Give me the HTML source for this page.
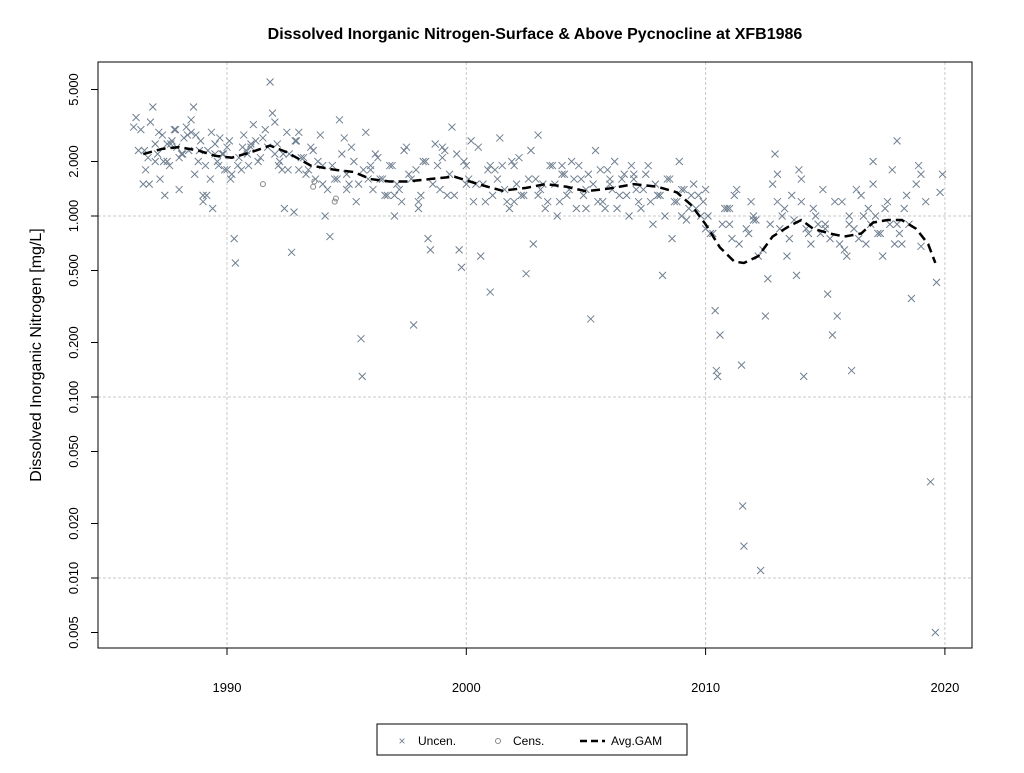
<!DOCTYPE html>
<html><head><meta charset="utf-8"><style>
body{margin:0;background:#fff;font-family:"Liberation Sans",Arial,sans-serif}
svg text{font-family:"Liberation Sans",Arial,sans-serif}
</style></head><body>
<svg id="c" width="1024" height="768" xmlns="http://www.w3.org/2000/svg">
<rect width="1024" height="768" fill="#fff"/>
<text x="535" y="39" text-anchor="middle" font-size="16" font-weight="bold">Dissolved Inorganic Nitrogen-Surface &amp; Above Pycnocline at XFB1986</text>
<text transform="translate(41,355) rotate(-90)" text-anchor="middle" font-size="16">Dissolved Inorganic Nitrogen [mg/L]</text>
<g id="grid"></g><g id="pts"></g><g id="gam"></g><g id="axes"></g>
<rect x="98" y="62" width="874" height="586" fill="none" stroke="#000"/>
<g>
<rect x="377" y="724" width="310" height="31" fill="#fff" stroke="#000"/>
<g><text x="402" y="745" font-size="12" fill="#708090" text-anchor="middle">×</text><text x="418" y="745" font-size="12">Uncen.</text></g>
<g><circle cx="498" cy="741" r="2.5" fill="none" stroke="#888"/><text x="513" y="745" font-size="12">Cens.</text></g>
<g><line x1="580" y1="741" x2="605" y2="741" stroke="#000" stroke-width="2.5" stroke-dasharray="7,4"/><text x="611" y="745" font-size="12">Avg.GAM</text></g>
</g>
</svg>
<script>
const yTicks=[5,2,1,0.5,0.2,0.1,0.05,0.02,0.01,0.005];
const yLabels=["5.000","2.000","1.000","0.500","0.200","0.100","0.050","0.020","0.010","0.005"];
const xTicks=[1990,2000,2010,2020];
const uncenYears=[1986.1,1986.3,1986.5,1986.6,1986.7,1986.8,1986.9,1987.0,1987.1,1987.2,1987.3,1987.4,1987.5,1987.6,1987.7,1987.8,1987.9,1988.0,1988.1,1988.2,1988.3,1988.4,1988.5,1988.6,1988.7,1988.8,1988.9,1989.0,1989.1,1989.2,1989.3,1989.4,1989.5,1989.6,1989.7,1989.8,1989.9,1990.0,1990.1,1990.2,1990.3,1990.35,1990.5,1990.6,1990.7,1990.8,1990.9,1991.0,1991.1,1991.3,1991.5,1991.7,1991.8,1991.9,1992.0,1992.1,1992.2,1992.3,1992.4,1992.5,1992.6,1992.7,1992.8,1992.9,1993.0,1993.1,1993.3,1993.5,1993.7,1993.9,1994.0,1994.1,1994.3,1994.5,1994.7,1994.8,1995.0,1995.2,1995.4,1995.5,1995.6,1995.65,1995.8,1996.0,1996.2,1996.4,1996.6,1996.8,1997.0,1997.2,1997.4,1997.6,1997.8,1998.0,1998.2,1998.4,1998.5,1998.6,1998.8,1999.0,1999.2,1999.4,1999.6,1999.7,1999.8,2000.0,2000.2,2000.4,2000.6,2000.8,2001.0,2001.2,2001.4,2001.6,2001.8,2002.0,2002.2,2002.4,2002.5,2002.6,2002.8,2003.0,2003.2,2003.4,2003.6,2003.8,2004.0,2004.2,2004.4,2004.6,2004.8,2005.0,2005.2,2005.4,2005.5,2005.6,2005.8,2006.0,2006.2,2006.4,2006.6,2006.8,2007.0,2007.2,2007.4,2007.6,2007.8,2008.0,2008.2,2008.4,2008.6,2008.7,2008.9,2009.1,2009.3,2009.5,2009.7,2009.9,2010.1,2010.3,2010.4,2010.45,2010.5,2010.6,2010.8,2011.0,2011.2,2011.4,2011.5,2011.55,2011.6,2011.7,2011.9,2012.1,2012.3,2012.5,2012.6,2012.8,2012.9,2013.0,2013.2,2013.4,2013.6,2013.8,2013.9,2014.1,2014.3,2014.5,2014.7,2014.9,2015.1,2015.3,2015.5,2015.6,2015.7,2015.9,2016.1,2016.3,2016.4,2016.6,2016.8,2017.0,2017.2,2017.4,2017.6,2017.8,2018.0,2018.2,2018.4,2018.6,2018.8,2018.9,2019.0,2019.2,2019.4,2019.6,2019.65,2019.8,2019.9,1986.4,1987.0,1987.5,1988.0,1988.5,1989.0,1989.5,1990.0,1991.0,1992.0,1993.0,1994.0,1995.0,1996.0,1997.0,1998.0,1999.0,2000.0,2001.0,2002.0,2003.0,2004.0,2005.0,2006.0,2007.0,2008.0,2009.0,2010.0,2011.0,2012.0,2013.0,2014.0,2015.0,2016.0,2017.0,2018.0,2019.0,
1986.2,1986.55,1986.75,1987.15,1987.35,1987.65,1987.85,1988.15,1988.35,1988.65,1988.85,1989.15,1989.35,1989.65,1989.85,1990.15,1990.45,1990.65,1990.85,1991.2,1991.4,1991.6,1992.15,1992.35,1992.55,1992.85,1993.2,1993.4,1993.6,1993.8,1994.2,1994.4,1994.6,1994.9,1995.1,1995.3,1995.7,1995.9,1996.1,1996.3,1996.5,1996.7,1996.9,1997.1,1997.3,1997.5,1997.7,1997.9,1998.1,1998.3,1998.7,1998.9,1999.1,1999.3,1999.5,1999.9,2000.1,2000.3,2000.5,2000.7,2000.9,2001.1,2001.3,2001.5,2001.7,2001.9,2002.1,2002.3,2002.7,2002.9,2003.1,2003.3,2003.5,2003.7,2003.9,2004.1,2004.3,2004.5,2004.7,2004.9,2005.1,2005.3,2005.7,2005.9,2006.1,2006.3,2006.5,2006.7,2006.9,2007.1,2007.3,2007.5,2007.7,2007.9,2008.1,2008.3,2008.5,2008.8,2009.0,2009.2,2009.4,2009.6,2009.8,2010.0,2010.2,2010.7,2010.9,2011.1,2011.3,2011.8,2012.0,2012.2,2012.4,2012.7,2013.1,2013.3,2013.5,2013.7,2014.0,2014.2,2014.4,2014.6,2014.8,2015.0,2015.2,2015.4,2015.8,2016.0,2016.2,2016.5,2016.7,2016.9,2017.1,2017.3,2017.5,2017.7,2017.9,2018.1,2018.3,2018.5,2018.7,2019.1,2019.3,2019.5];
const uncenValues=[3.1,2.3,1.5,1.8,2.1,3.3,4.0,2.5,2.2,1.6,2.8,1.3,2.0,1.9,2.6,3.0,2.4,1.4,2.2,2.7,3.1,2.3,3.4,4.0,2.8,2.0,2.6,1.2,1.9,2.3,1.6,1.1,2.5,2.0,2.7,2.2,1.8,2.4,2.6,1.7,0.75,0.55,2.1,1.8,2.8,2.3,1.9,2.5,3.2,2.0,2.7,2.4,5.5,3.7,3.3,2.5,2.0,1.8,1.1,2.9,2.2,0.63,1.05,2.6,2.9,2.1,1.7,2.4,1.6,2.8,1.9,1.0,0.77,1.6,3.4,2.2,1.7,2.4,1.2,1.5,0.21,0.13,2.9,1.9,2.2,1.6,1.3,1.9,1.0,1.4,2.3,1.7,0.25,1.2,2.0,0.75,0.65,1.5,1.9,2.4,1.3,3.1,2.2,0.65,0.52,1.9,2.6,1.5,0.6,1.2,0.38,1.8,2.7,1.4,1.1,1.9,2.1,1.3,0.48,1.6,0.7,2.8,1.5,1.2,1.9,1.0,1.7,1.3,2.0,1.1,1.6,1.4,0.27,2.3,1.2,1.8,1.1,1.5,2.0,1.3,1.7,1.0,1.6,1.2,1.4,1.9,0.9,1.3,0.47,1.6,0.75,1.2,2.0,1.4,1.1,1.5,1.3,1.2,1.0,0.8,0.3,0.14,0.13,0.22,1.1,0.9,1.3,0.7,0.15,0.025,0.015,0.85,1.2,0.95,0.011,0.28,0.45,1.5,2.2,1.7,1.0,0.6,1.3,0.47,1.8,0.13,0.8,1.1,0.9,1.4,0.37,0.22,0.28,0.7,1.2,0.6,0.14,1.4,0.75,1.0,1.1,1.5,0.8,0.6,1.2,1.8,0.9,0.7,1.3,0.35,1.5,1.9,0.68,1.2,0.034,0.005,0.43,1.35,1.7,3.0,2.0,2.5,2.1,2.9,1.3,2.2,1.8,2.4,2.2,1.8,1.5,1.4,1.8,1.3,1.1,2.1,1.5,1.9,1.2,1.3,1.9,1.1,1.6,1.7,1.3,1.0,1.4,1.1,0.95,1.2,1.6,0.85,0.9,
2.0,2.6,1.7,3.5,2.3,1.5,2.9,2.0,2.5,3.0,2.2,2.8,1.7,2.3,1.3,2.9,1.9,2.2,1.6,1.9,2.4,2.2,2.6,2.1,3.0,1.9,2.2,1.8,2.6,2.1,1.8,2.3,2.0,1.4,1.9,1.6,2.7,1.5,2.0,1.8,1.6,1.4,2.1,1.6,1.3,1.9,1.5,1.2,2.4,1.6,1.8,1.3,2.0,2.5,1.4,2.3,1.7,1.3,2.0,1.6,1.2,2.4,1.5,1.8,1.3,1.6,1.9,1.2,2.0,1.5,1.3,2.3,1.6,1.4,1.1,1.9,1.5,1.2,1.7,1.4,1.6,1.9,1.3,1.7,1.5,1.2,1.8,1.4,1.1,1.6,1.3,1.9,1.4,1.1,1.7,1.2,1.5,1.3,1.0,1.6,1.2,1.4,0.95,1.3,1.1,1.0,0.85,0.8,0.9,1.1,0.75,1.4,0.8,1.0,0.6,0.65,0.9,0.85,1.1,0.75,0.95,1.2,0.85,0.7,1.0,0.8,0.9,0.75,1.2,0.65,1.0,0.85,1.3,0.7,0.9,1.0,0.8,1.1,0.9,0.7,0.8,1.1,0.9];
const censYears=[1991.5,1993.6,1993.65,1994.5,1994.55];
const censValues=[1.5,1.45,1.55,1.2,1.25];
const gamYears=[1986.5,1987.3,1988.0,1988.8,1989.5,1990.2,1991.0,1991.8,1992.5,1993.5,1994.5,1995.3,1996.0,1996.8,1997.5,1998.5,1999.5,2000.5,2001.5,2002.5,2003.3,2004.2,2005.0,2006.0,2007.0,2008.0,2008.8,2009.4,2010.0,2010.6,2011.2,2011.6,2012.2,2012.8,2013.5,2014.0,2014.5,2015.2,2015.8,2016.5,2017.0,2017.6,2018.2,2018.8,2019.3,2019.6];
const gamValues=[2.2,2.35,2.4,2.3,2.15,2.1,2.25,2.45,2.25,1.9,1.8,1.75,1.6,1.55,1.55,1.6,1.65,1.5,1.38,1.43,1.5,1.45,1.37,1.42,1.5,1.45,1.35,1.15,0.9,0.67,0.56,0.55,0.6,0.77,0.88,0.95,0.85,0.8,0.77,0.8,0.92,0.95,0.95,0.85,0.7,0.55];

const NS="http://www.w3.org/2000/svg";
const X=y=>227+(y-1990)*23.93;
const Y=v=>216-181*Math.log10(v);
function mk(t,a,p){const e=document.createElementNS(NS,t);for(const k in a)e.setAttribute(k,a[k]);p.appendChild(e);return e;}
const grid=document.getElementById('grid'),axes=document.getElementById('axes'),pts=document.getElementById('pts'),gam=document.getElementById('gam');
yTicks.forEach((v,i)=>{
  const y=Y(v);
  if([1,0.1,0.01].includes(v)){const g=mk('line',{x1:98,x2:972,y1:y,y2:y,stroke:'#c8c8c8','stroke-dasharray':'3,2'},grid);
  
  }
  const tk=mk('line',{x1:91,x2:98,y1:y,y2:y,stroke:'#000'},axes);
  
  
  const t=mk('text',{x:0,y:0,transform:`translate(78,${y}) rotate(-90)`,'text-anchor':'middle','font-size':13},axes);
  t.textContent=yLabels[i];
  
  
});
xTicks.forEach(v=>{
  const x=X(v);
  const g=mk('line',{x1:x,x2:x,y1:62,y2:648,stroke:'#c8c8c8','stroke-dasharray':'3,2'},grid);
  
  
  const tk=mk('line',{x1:x,x2:x,y1:648,y2:655,stroke:'#000'},axes);
  
  
  const t=mk('text',{x:x,y:692,'text-anchor':'middle','font-size':13},axes);
  t.textContent=v;
  
  
});
uncenYears.forEach((yr,i)=>{
  const x=X(yr),y=Y(uncenValues[i]);
  const p=mk('path',{d:`M${x-3.5},${y-3.5}L${x+3.5},${y+3.5}M${x-3.5},${y+3.5}L${x+3.5},${y-3.5}`,stroke:'#6f7f90','stroke-width':1,fill:'none'},pts);
  
  
});
censYears.forEach((yr,i)=>{
  const c=mk('circle',{cx:X(yr),cy:Y(censValues[i]),r:2.5,fill:'none',stroke:'#888'},pts);
  
  
});
const l=mk('polyline',{points:gamYears.map((yr,i)=>X(yr)+','+Y(gamValues[i])).join(' '),fill:'none',stroke:'#000','stroke-width':2.5,'stroke-dasharray':'9,5'},gam);


</script>
</body></html>
